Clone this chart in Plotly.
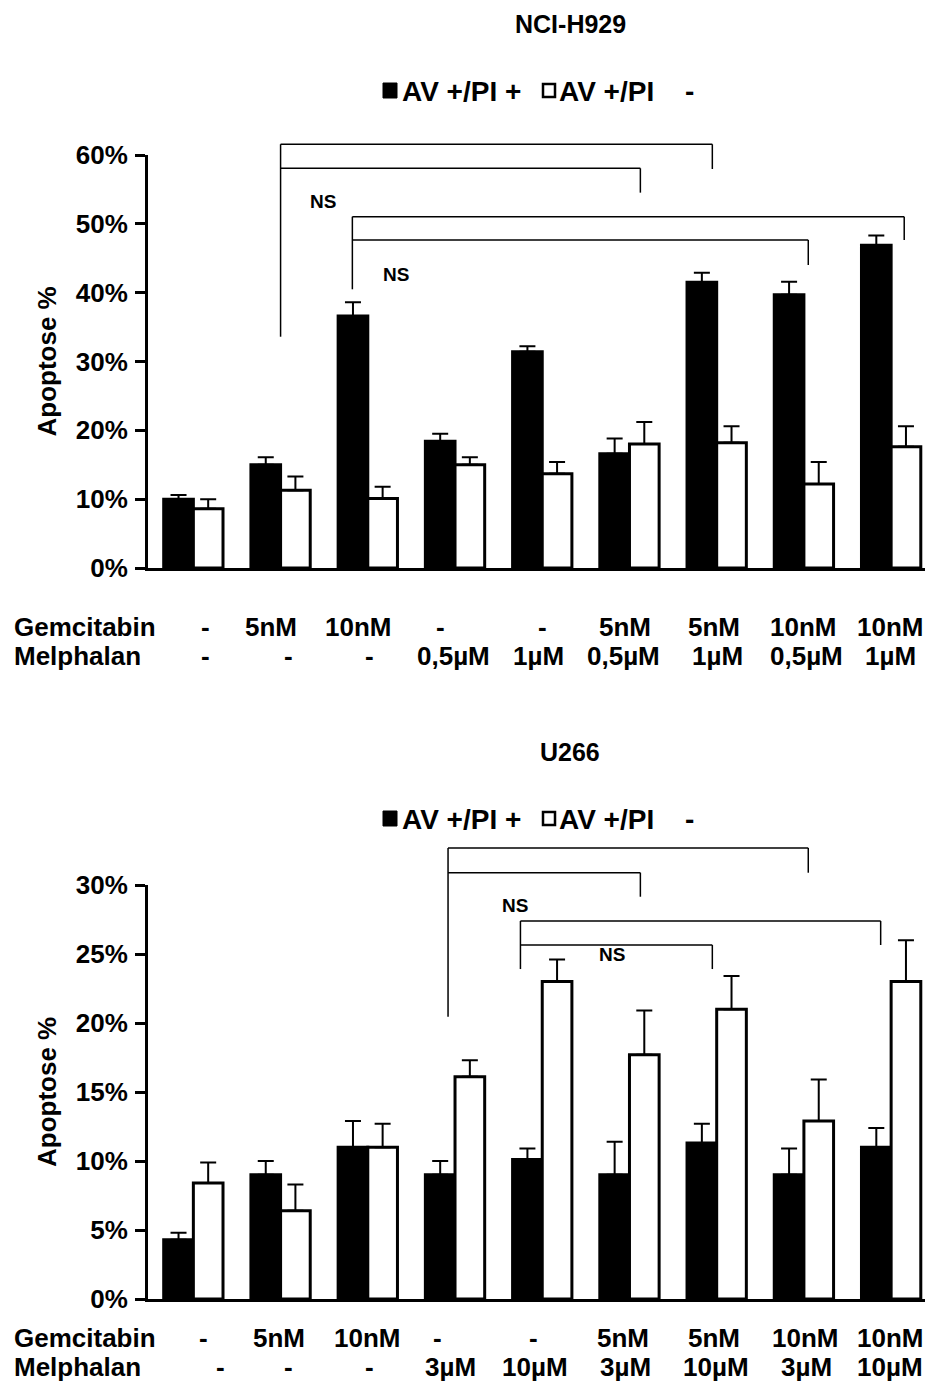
import plotly.graph_objects as go

# ---------------- data ----------------
categories = list(range(9))

# NCI-H929
h929_title = "NCI-H929"
h929_gem = ["-", "5nM", "10nM", "-", "-", "5nM", "5nM", "10nM", "10nM"]
h929_mel = ["-", "-", "-", "0,5µM", "1µM", "0,5µM", "1µM", "0,5µM", "1µM"]
h929_pos = [10.0, 15.0, 36.6, 18.4, 31.4, 16.6, 41.5, 39.7, 46.9]
h929_pos_err = [0.6, 1.1, 2.0, 1.1, 0.8, 2.2, 1.4, 1.9, 1.4]
h929_neg = [8.6, 11.3, 10.1, 15.0, 13.7, 18.0, 18.2, 12.2, 17.6]
h929_neg_err = [1.4, 2.0, 1.7, 1.1, 1.7, 3.2, 2.4, 3.2, 3.0]

# U266
u266_title = "U266"
u266_gem = ["-", "5nM", "10nM", "-", "-", "5nM", "5nM", "10nM", "10nM"]
u266_mel = ["-", "-", "-", "3µM", "10µM", "3µM", "10µM", "3µM", "10µM"]
u266_pos = [4.3, 9.0, 11.0, 9.0, 10.1, 9.0, 11.3, 9.0, 11.0]
u266_pos_err = [0.5, 1.0, 1.9, 1.0, 0.8, 2.4, 1.4, 1.9, 1.4]
u266_neg = [8.4, 6.4, 11.0, 16.1, 23.0, 17.7, 21.0, 12.9, 23.0]
u266_neg_err = [1.5, 1.9, 1.7, 1.2, 1.6, 3.2, 2.4, 3.0, 3.0]

h929_ticks = [0, 10, 20, 30, 40, 50, 60]
u266_ticks = [0, 5, 10, 15, 20, 25, 30]

# ---------------- geometry helpers ----------------
OFF = 8                      # page body margin of the browser
W, H = 925, 1377
FONT = "Liberation Sans, Arial, sans-serif"
XR = [-0.52, 8.48]


def px(x):
    return (x - OFF) / W


def py(y):
    return 1 - (y - OFF) / H


XD = [px(148), 1.0]
TOP_DOM = [py(568), py(155)]
BOT_DOM = [py(1299), py(885)]
TOP_R = [0, 60]
BOT_R = [0, 30]


def dx(v):
    return XD[0] + (v - XR[0]) / (XR[1] - XR[0]) * (XD[1] - XD[0])


def dy(v, dom, rng):
    return dom[0] + (v - rng[0]) / (rng[1] - rng[0]) * (dom[1] - dom[0])


fig = go.Figure()


def add_bars(pos, pos_err, neg, neg_err, xa, ya):
    fig.add_trace(go.Bar(
        x=categories, y=pos, xaxis=xa, yaxis=ya, showlegend=False,
        marker=dict(color="black", line=dict(color="black", width=3)),
        error_y=dict(type="data", symmetric=False, array=pos_err,
                     arrayminus=[0] * len(pos), color="black",
                     thickness=2, width=8),
    ))
    fig.add_trace(go.Bar(
        x=categories, y=neg, xaxis=xa, yaxis=ya, showlegend=False,
        marker=dict(color="white", line=dict(color="black", width=3)),
        error_y=dict(type="data", symmetric=False, array=neg_err,
                     arrayminus=[0] * len(neg), color="black",
                     thickness=2, width=8),
    ))


add_bars(h929_pos, h929_pos_err, h929_neg, h929_neg_err, "x", "y")
add_bars(u266_pos, u266_pos_err, u266_neg, u266_neg_err, "x2", "y2")

axis_font = dict(family=FONT, size=26, color="black", weight="bold")

xcommon = dict(range=XR, showline=True, linewidth=3, linecolor="black",
               showticklabels=False, ticks="", showgrid=False, zeroline=False,
               fixedrange=True, automargin=False)
ycommon = dict(showline=True, linewidth=3, linecolor="black", ticks="outside",
               ticklen=10, tickwidth=3, tickcolor="black",
               tickfont=axis_font, showgrid=False, zeroline=False,
               ticklabelstandoff=2, automargin=False)

fig.update_layout(
    width=W, height=H,
    margin=dict(l=0, r=0, t=0, b=0, pad=0, autoexpand=False),
    paper_bgcolor="white", plot_bgcolor="white",
    barmode="group", bargap=0.32, bargroupgap=0,
    xaxis=dict(domain=XD, anchor="y", **xcommon),
    yaxis=dict(domain=TOP_DOM, anchor="x", range=TOP_R, tickvals=h929_ticks,
               ticktext=[f"{t}%" for t in h929_ticks], **ycommon),
    xaxis2=dict(domain=XD, anchor="y2", **xcommon),
    yaxis2=dict(domain=BOT_DOM, anchor="x2", range=BOT_R, tickvals=u266_ticks,
                ticktext=[f"{t}%" for t in u266_ticks], **ycommon),
)

annotations = []
shapes = []


def txt(x, y, text, size=25, xanchor="center", xref="paper", angle=0, xshift=0):
    annotations.append(dict(
        x=x, y=y, xref=xref, yref="paper", text=text, showarrow=False,
        xanchor=xanchor, yanchor="middle", textangle=angle, xshift=xshift,
        font=dict(family=FONT, size=size, color="black", weight="bold"),
    ))


def panel_header(title, off):
    txt(px(570), py(24 + off), title, size=25)
    shapes.append(dict(type="rect", xref="paper", yref="paper",
                       x0=px(383), x1=px(397), y0=py(98 + off), y1=py(83 + off),
                       fillcolor="black", line=dict(color="black", width=1)))
    shapes.append(dict(type="rect", xref="paper", yref="paper",
                       x0=px(543), x1=px(555), y0=py(97 + off), y1=py(84 + off),
                       fillcolor="white", line=dict(color="black", width=2.5)))
    txt(px(400), py(91 + off), "AV +/PI +", size=28, xanchor="left")
    txt(px(557), py(91 + off), "AV +/PI", size=28, xanchor="left")
    txt(px(689), py(91 + off), "-", size=28)


panel_header(h929_title, 0)
panel_header(u266_title, 728)

# y-axis titles
txt(px(47), (TOP_DOM[0] + TOP_DOM[1]) / 2, "Apoptose %", size=26, angle=-90)
txt(px(47), (BOT_DOM[0] + BOT_DOM[1]) / 2, "Apoptose %", size=26, angle=-90)

# treatment rows
top_shift_g = [12, -10, -10, -15, 0, -4, -3, -1, -1]
top_shift_m = [12, 8, 2, -2, -4, -6, 1, 3, -1]
bot_shift_g = [10, -2, -1, -18, -9, -6, -3, 1, -1]
bot_shift_m = [27, 8, 2, -5, -7, -4, -1, 3, -1]


def rows(gem, mel, xref, yg, ym, sg, sm):
    txt(px(12), py(yg), "Gemcitabin", size=26, xanchor="left")
    txt(px(12), py(ym), "Melphalan", size=26, xanchor="left")
    for i, c in enumerate(categories):
        txt(c, py(yg), gem[i], size=26, xref=xref, xshift=sg[i])
        txt(c, py(ym), mel[i], size=26, xref=xref, xshift=sm[i])


rows(h929_gem, h929_mel, "x", 627, 656, top_shift_g, top_shift_m)
rows(u266_gem, u266_mel, "x2", 1338, 1367, bot_shift_g, bot_shift_m)


# significance brackets (category units / percent units)
def bracket(x_left, x_right, y_top, y_right_end, dom, rng):
    shapes.append(dict(type="line", xref="paper", yref="paper",
                       x0=dx(x_left), x1=dx(x_right),
                       y0=dy(y_top, dom, rng), y1=dy(y_top, dom, rng),
                       line=dict(color="black", width=1.5)))
    shapes.append(dict(type="line", xref="paper", yref="paper",
                       x0=dx(x_right), x1=dx(x_right),
                       y0=dy(y_top, dom, rng), y1=dy(y_right_end, dom, rng),
                       line=dict(color="black", width=1.5)))


def vline(x, y0, y1, dom, rng):
    shapes.append(dict(type="line", xref="paper", yref="paper",
                       x0=dx(x), x1=dx(x),
                       y0=dy(y0, dom, rng), y1=dy(y1, dom, rng),
                       line=dict(color="black", width=1.5)))


def ns(x, y, dom, rng):
    txt(dx(x), dy(y, dom, rng), "NS", size=19)


# top panel
bracket(1.0, 5.95, 61.56, 57.97, TOP_DOM, TOP_R)
bracket(1.0, 5.125, 58.07, 54.53, TOP_DOM, TOP_R)
vline(1.0, 61.56, 33.6, TOP_DOM, TOP_R)
bracket(1.823, 8.15, 51.04, 47.65, TOP_DOM, TOP_R)
bracket(1.823, 7.05, 47.65, 44.02, TOP_DOM, TOP_R)
vline(1.823, 51.04, 40.49, TOP_DOM, TOP_R)
ns(1.49, 53.2, TOP_DOM, TOP_R)
ns(2.32, 42.7, TOP_DOM, TOP_R)

# bottom panel
bracket(2.92, 7.05, 32.68, 30.89, BOT_DOM, BOT_R)
bracket(2.92, 5.125, 30.89, 29.15, BOT_DOM, BOT_R)
vline(2.92, 32.68, 20.46, BOT_DOM, BOT_R)
bracket(3.75, 7.88, 27.39, 25.65, BOT_DOM, BOT_R)
bracket(3.75, 5.95, 25.65, 23.91, BOT_DOM, BOT_R)
vline(3.75, 27.39, 23.91, BOT_DOM, BOT_R)
ns(3.69, 28.5, BOT_DOM, BOT_R)
ns(4.8, 24.93, BOT_DOM, BOT_R)

fig.update_layout(annotations=annotations, shapes=shapes)

fig.write_html("out.html")
